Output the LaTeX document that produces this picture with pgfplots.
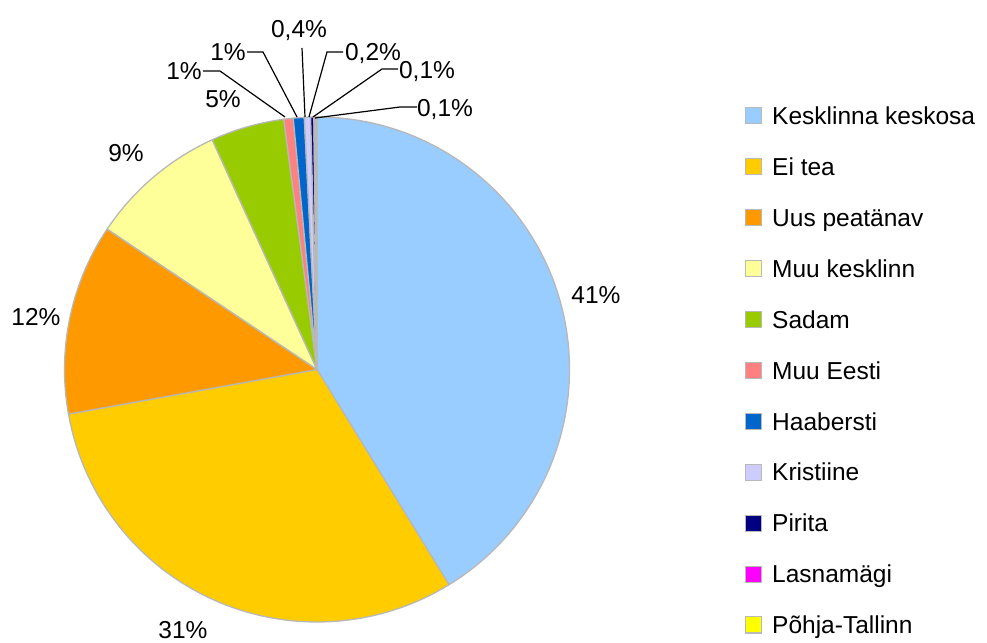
\documentclass[border=0pt]{standalone}
\usepackage{fontspec}
\setmainfont{Liberation Sans}
\usepackage{pgfplots}
\usepackage{pgfplotstable}
\pgfplotsset{compat=1.18}
\definecolor{c0}{HTML}{99CCFF}
\definecolor{c1}{HTML}{FFCC00}
\definecolor{c2}{HTML}{FF9900}
\definecolor{c3}{HTML}{FFFF99}
\definecolor{c4}{HTML}{99CC00}
\definecolor{c5}{HTML}{FF8080}
\definecolor{c6}{HTML}{0066CC}
\definecolor{c7}{HTML}{CCCCFF}
\definecolor{c8}{HTML}{000080}
\definecolor{c9}{HTML}{FF00FF}
\definecolor{c10}{HTML}{FFFF00}
\definecolor{sliceborder}{HTML}{B8B8B8}
\newcommand\lfont{\fontsize{24.5}{29}\selectfont}
% name; value (percent); label text; label centre x,y (pixels from top-left)
\pgfplotstableread[col sep=semicolon]{
name;value;lab;lx;ly
Kesklinna keskosa;41.2;41;596;295
Ei tea;30.9;31;183;630
Uus peatänav;12.2;12;36;317
Muu kesklinn;8.8;9;126;153
Sadam;4.7;5;223;99
Muu Eesti;0.6;1;184;71
Haabersti;0.7;1;228;52
Kristiine;0.4;0,4;299;29
Pirita;0.2;0,2;373;52
Lasnamägi;0.1;0,1;427;70
Põhja-Tallinn;0.1;0,1;445;108
}\piedata
\begin{document}
\begin{tikzpicture}
\begin{axis}[width=987pt, height=642pt, scale only axis,
  xmin=0, xmax=987, ymin=0, ymax=642, hide axis, clip=false]
\path (axis cs:0,0) rectangle (axis cs:987,642);
% total
\def\total{0}
\pgfplotsforeachungrouped \i in {0,...,10}{%
  \pgfplotstablegetelem{\i}{value}\of\piedata
  \pgfmathsetmacro\total{\total+\pgfplotsretval}%
}
\def\cum{0}
\pgfplotsforeachungrouped \i in {0,...,10}{%
  \pgfplotstablegetelem{\i}{value}\of\piedata
  \let\v\pgfplotsretval
  \pgfmathsetmacro\a{90-\cum/\total*360}%
  \pgfmathsetmacro\b{90-(\cum+\v)/\total*360}%
  \edef\temp{\noexpand\filldraw[fill=c\i, draw=sliceborder, line width=1.3pt, line join=round]
    (axis cs:317,272.5) -- ++(\a:252.5pt) arc[start angle=\a, end angle=\b, radius=252.5pt] -- cycle;}%
  \temp
  \pgfmathsetmacro\cum{\cum+\v}%
  % value label
  \pgfplotstablegetelem{\i}{lx}\of\piedata \let\lx\pgfplotsretval
  \pgfplotstablegetelem{\i}{ly}\of\piedata
  \pgfmathsetmacro\ly{642-\pgfplotsretval-8.7}%
  \pgfplotstablegetelem{\i}{lab}\of\piedata \let\lab\pgfplotsretval
  \edef\temp{\noexpand\node[anchor=base, inner sep=0pt, font=\noexpand\lfont] at (axis cs:\lx,\ly) {\lab\noexpand\%};}%
  \temp
  % legend
  \pgfmathsetmacro\yc{642-(116+\i*50.9)}%
  \pgfmathsetmacro\ya{\yc-8}%
  \pgfmathsetmacro\yb{\yc+8}%
  \pgfmathsetmacro\ytx{\yc-8.7}%
  \pgfplotstablegetelem{\i}{name}\of\piedata \let\nm\pgfplotsretval
  \edef\temp{\noexpand\filldraw[fill=c\i, draw=gray!55, line width=1pt] (axis cs:745.5,\ya) rectangle (axis cs:761.5,\yb);
    \noexpand\node[anchor=base west, inner sep=0pt, font=\noexpand\lfont] at (axis cs:772,\ytx) {\nm};}%
  \temp
}
% leader lines for the small slices
\draw[black, line width=1.2pt] (axis cs:203,571) -- (axis cs:220,571) -- (axis cs:285,525);
\draw[black, line width=1.2pt] (axis cs:247,590) -- (axis cs:263,590) -- (axis cs:297,525);
\draw[black, line width=1.2pt] (axis cs:302,594) -- (axis cs:305,525);
\draw[black, line width=1.2pt] (axis cs:343,590) -- (axis cs:327,590) -- (axis cs:309,525);
\draw[black, line width=1.2pt] (axis cs:398,573) -- (axis cs:382,573) -- (axis cs:313,525);
\draw[black, line width=1.2pt] (axis cs:417,535) -- (axis cs:400,535) -- (axis cs:315,524);
\end{axis}
\end{tikzpicture}
\end{document}
